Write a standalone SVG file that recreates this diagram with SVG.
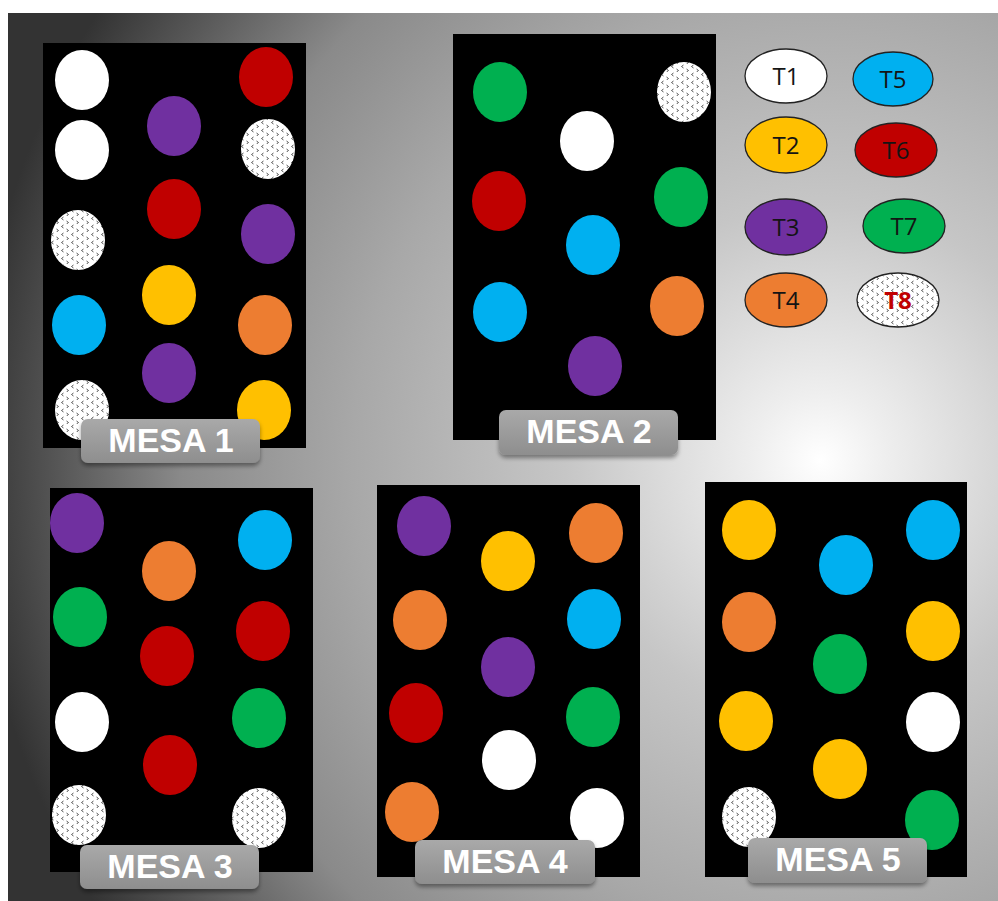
<svg xmlns="http://www.w3.org/2000/svg" width="998" height="901" viewBox="0 0 998 901">
<defs>
<radialGradient id="bg" gradientUnits="userSpaceOnUse" cx="820" cy="460" r="850">
<stop offset="0" stop-color="#ffffff"/>
<stop offset="0.08" stop-color="#eeeeee"/>
<stop offset="0.3" stop-color="#c6c6c6"/>
<stop offset="0.55" stop-color="#a8a8a8"/>
<stop offset="0.75" stop-color="#8a8a8a"/>
<stop offset="0.9" stop-color="#555555"/>
<stop offset="1" stop-color="#333333"/>
</radialGradient>
<linearGradient id="btn" x1="0" y1="0" x2="0" y2="1">
<stop offset="0" stop-color="#a9a9a9"/>
<stop offset="1" stop-color="#8e8e8e"/>
</linearGradient>
<pattern id="dots" patternUnits="userSpaceOnUse" width="10" height="8">
<rect width="10" height="8" fill="#ffffff"/>
<path d="M3.5 1 L1.5 2.5 L3.5 4 M6.5 5 L8.5 6.5 L6.5 8" fill="none" stroke="#444" stroke-width="0.9"/>
</pattern>
<filter id="sh" x="-10%" y="-20%" width="120%" height="150%">
<feDropShadow dx="0" dy="3" stdDeviation="2" flood-color="#000" flood-opacity="0.4"/>
</filter>
</defs>
<style>
.tbl{fill:#000}
.w{fill:#ffffff}.y{fill:#ffc000}.p{fill:#7030a0}.o{fill:#ed7d31}.b{fill:#00b0f0}.r{fill:#c00000}.g{fill:#00b050}.d{fill:url(#dots)}
.btn{fill:url(#btn);filter:url(#sh)}
.lbl{font-family:"Liberation Sans",Arial,sans-serif;font-weight:bold;font-size:34px;fill:#ffffff;text-anchor:middle}
.leg ellipse{stroke:#222;stroke-width:1.3}
.lt{font-family:"Open Sans","Liberation Sans",sans-serif;font-size:24px;fill:#141414;text-anchor:middle}
</style>
<rect x="8" y="13" width="990" height="888" fill="url(#bg)"/>

<g id="mesa1">
<rect class="tbl" x="43" y="43" width="263" height="405"/>
<ellipse class="w" cx="82" cy="80" rx="27" ry="30"/>
<ellipse class="w" cx="82" cy="150" rx="27" ry="30"/>
<ellipse class="d" cx="78" cy="240" rx="27" ry="30"/>
<ellipse class="b" cx="79" cy="325" rx="27" ry="30"/>
<ellipse class="d" cx="82" cy="410" rx="27" ry="30"/>
<ellipse class="p" cx="174" cy="126" rx="27" ry="30"/>
<ellipse class="r" cx="174" cy="209" rx="27" ry="30"/>
<ellipse class="y" cx="169" cy="295" rx="27" ry="30"/>
<ellipse class="p" cx="169" cy="373" rx="27" ry="30"/>
<ellipse class="r" cx="266" cy="77" rx="27" ry="30"/>
<ellipse class="d" cx="268" cy="149" rx="27" ry="30"/>
<ellipse class="p" cx="268" cy="234" rx="27" ry="30"/>
<ellipse class="o" cx="265" cy="325" rx="27" ry="30"/>
<ellipse class="y" cx="264" cy="410" rx="27" ry="30"/>
<rect class="btn" x="81" y="419" width="179" height="44" rx="7"/>
<text class="lbl" x="171" y="452">MESA 1</text>
</g>

<g id="mesa2">
<rect class="tbl" x="453" y="34" width="263" height="406"/>
<ellipse class="g" cx="500" cy="92" rx="27" ry="30"/>
<ellipse class="r" cx="499" cy="201" rx="27" ry="30"/>
<ellipse class="b" cx="500" cy="312" rx="27" ry="30"/>
<ellipse class="w" cx="587" cy="141" rx="27" ry="30"/>
<ellipse class="b" cx="593" cy="245" rx="27" ry="30"/>
<ellipse class="p" cx="595" cy="366" rx="27" ry="30"/>
<ellipse class="d" cx="684" cy="92" rx="27" ry="30"/>
<ellipse class="g" cx="681" cy="197" rx="27" ry="30"/>
<ellipse class="o" cx="677" cy="306" rx="27" ry="30"/>
<rect class="btn" x="499" y="410" width="179" height="45" rx="7"/>
<text class="lbl" x="589" y="443">MESA 2</text>
</g>

<g id="mesa3">
<rect class="tbl" x="50" y="488" width="263" height="384"/>
<ellipse class="p" cx="77" cy="523" rx="27" ry="30"/>
<ellipse class="g" cx="80" cy="617" rx="27" ry="30"/>
<ellipse class="w" cx="82" cy="722" rx="27" ry="30"/>
<ellipse class="d" cx="79" cy="815" rx="27" ry="30"/>
<ellipse class="o" cx="169" cy="571" rx="27" ry="30"/>
<ellipse class="r" cx="167" cy="656" rx="27" ry="30"/>
<ellipse class="r" cx="170" cy="765" rx="27" ry="30"/>
<ellipse class="b" cx="265" cy="540" rx="27" ry="30"/>
<ellipse class="r" cx="263" cy="631" rx="27" ry="30"/>
<ellipse class="g" cx="259" cy="718" rx="27" ry="30"/>
<ellipse class="d" cx="259" cy="818" rx="27" ry="30"/>
<rect class="btn" x="80" y="845" width="179" height="44" rx="7"/>
<text class="lbl" x="170" y="878">MESA 3</text>
</g>

<g id="mesa4">
<rect class="tbl" x="377" y="485" width="263" height="392"/>
<ellipse class="p" cx="424" cy="526" rx="27" ry="30"/>
<ellipse class="o" cx="420" cy="620" rx="27" ry="30"/>
<ellipse class="r" cx="416" cy="713" rx="27" ry="30"/>
<ellipse class="o" cx="412" cy="812" rx="27" ry="30"/>
<ellipse class="y" cx="508" cy="561" rx="27" ry="30"/>
<ellipse class="p" cx="508" cy="667" rx="27" ry="30"/>
<ellipse class="w" cx="509" cy="760" rx="27" ry="30"/>
<ellipse class="o" cx="596" cy="533" rx="27" ry="30"/>
<ellipse class="b" cx="594" cy="619" rx="27" ry="30"/>
<ellipse class="g" cx="593" cy="717" rx="27" ry="30"/>
<ellipse class="w" cx="597" cy="818" rx="27" ry="30"/>
<rect class="btn" x="415" y="840" width="180" height="44" rx="7"/>
<text class="lbl" x="505" y="873">MESA 4</text>
</g>

<g id="mesa5">
<rect class="tbl" x="705" y="482" width="262" height="395"/>
<ellipse class="y" cx="749" cy="530" rx="27" ry="30"/>
<ellipse class="o" cx="749" cy="622" rx="27" ry="30"/>
<ellipse class="y" cx="746" cy="721" rx="27" ry="30"/>
<ellipse class="d" cx="749" cy="817" rx="27" ry="30"/>
<ellipse class="b" cx="846" cy="565" rx="27" ry="30"/>
<ellipse class="g" cx="840" cy="664" rx="27" ry="30"/>
<ellipse class="y" cx="840" cy="769" rx="27" ry="30"/>
<ellipse class="b" cx="933" cy="530" rx="27" ry="30"/>
<ellipse class="y" cx="933" cy="631" rx="27" ry="30"/>
<ellipse class="w" cx="933" cy="722" rx="27" ry="30"/>
<ellipse class="g" cx="932" cy="820" rx="27" ry="30"/>
<rect class="btn" x="748" y="838" width="179" height="45" rx="7"/>
<text class="lbl" x="838" y="871">MESA 5</text>
</g>

<g id="legend" class="leg">
<g id="leg-t1"><ellipse class="w" cx="786" cy="76" rx="41" ry="27"/><text class="lt" x="786" y="85">T1</text></g>
<g id="leg-t2"><ellipse class="y" cx="786" cy="145" rx="41" ry="28"/><text class="lt" x="786" y="154">T2</text></g>
<g id="leg-t3"><ellipse class="p" cx="786" cy="227" rx="41" ry="28"/><text class="lt" x="786" y="236">T3</text></g>
<g id="leg-t4"><ellipse class="o" cx="786" cy="300" rx="41" ry="27"/><text class="lt" x="786" y="309">T4</text></g>
<g id="leg-t5"><ellipse class="b" cx="893" cy="79" rx="40" ry="27"/><text class="lt" x="893" y="88">T5</text></g>
<g id="leg-t6"><ellipse class="r" cx="896" cy="150" rx="41" ry="27"/><text class="lt" x="896" y="159">T6</text></g>
<g id="leg-t7"><ellipse class="g" cx="904" cy="226" rx="41" ry="27"/><text class="lt" x="904" y="235">T7</text></g>
<g id="leg-t8"><ellipse class="d" cx="898" cy="300" rx="41" ry="27"/><text class="lt" x="898" y="309" style="fill:#c00000;font-weight:bold">T8</text></g>
</g>
</svg>
